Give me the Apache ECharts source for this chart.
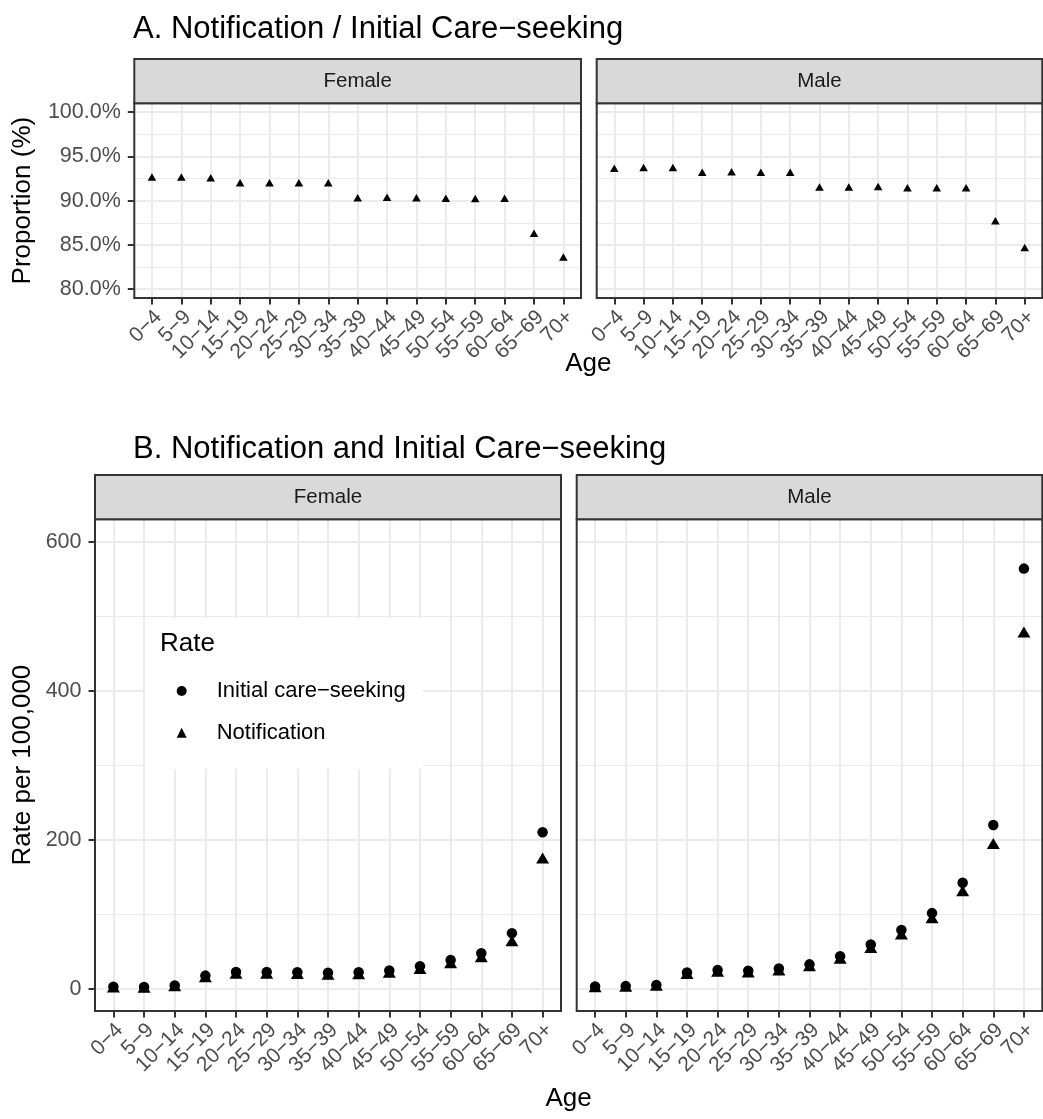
<!DOCTYPE html>
<html><head><meta charset="utf-8">
<script src="https://cdn.jsdelivr.net/npm/echarts@6/dist/echarts.min.js"></script>
<style>html,body{margin:0;padding:0;background:#fff}#c{width:1043px;height:1119px}</style>
</head><body><div id="c"></div>
<script>
// ---------- data ----------
const ageGroups = ['0−4','5−9','10−14','15−19','20−24','25−29','30−34','35−39','40−44','45−49','50−54','55−59','60−64','65−69','70+'];
const propFemale = [92.66, 92.66, 92.58, 92.01, 92.01, 92.01, 92.01, 90.32, 90.39, 90.32, 90.28, 90.24, 90.28, 86.33, 83.62];
const propMale   = [93.67, 93.75, 93.75, 93.22, 93.26, 93.22, 93.22, 91.53, 91.53, 91.60, 91.45, 91.45, 91.45, 87.72, 84.71];
const careFemale  = [2.5, 2.2, 4.3, 17.5, 22.5, 22.5, 22.0, 21.5, 22.0, 24.5, 30.0, 38.5, 47.5, 74.5, 210.0];
const notifFemale = [2.3, 2.0, 4.0, 16.1, 20.7, 20.7, 20.3, 19.4, 19.9, 22.1, 27.1, 34.8, 42.9, 64.3, 175.5];
const careMale    = [2.8, 3.4, 4.8, 21.7, 25.0, 24.0, 27.0, 32.6, 43.5, 59.3, 78.8, 101.4, 142.2, 219.6, 563.8];
const notifMale   = [2.6, 3.2, 4.5, 20.2, 23.3, 22.4, 25.2, 30.8, 40.8, 55.2, 73.4, 95.1, 131.3, 194.7, 478.6];
const propTicks = [80, 85, 90, 95, 100];
const propMinorTicks = [82.5, 87.5, 92.5, 97.5];
const rateTicks = [0, 200, 400, 600];
const rateMinorTicks = [100, 300, 500];
const panelNames = ['Female', 'Male'];

// ---------- layout / style ----------
const FONT = "'Liberation Sans', Arial, Helvetica, sans-serif";
const GRID_COL = '#EBEBEB', DARK = '#333333';
const grids = [
  {left: 134.3, top: 103.3, width: 446.7, height: 194.7},
  {left: 596.7, top: 103.3, width: 445.6, height: 194.7},
  {left: 95,    top: 519.3, width: 466,   height: 491.7},
  {left: 576.7, top: 519.3, width: 465.6, height: 491.7}
];
const STRIP_H = 44.3;
const ageIdx = ageGroups.map((_, i) => i + 1);
// label positions listed so that the first two and last two entries are not neighbours
// (prevents ECharts' min/max-label overlap check from dropping a rotated label)
const n = ageIdx.length, mid = Math.ceil(n / 2);
const labelIdx = [ageIdx[0], ageIdx[mid]].concat(ageIdx.slice(1, mid - 1), ageIdx.slice(mid + 1), [ageIdx[mid - 1]]);

const xAxes = grids.map((g, i) => ({
  type: 'value', gridIndex: i, min: 0.4, max: 15.6,
  axisLine: {show: false, onZero: false},
  axisTick: {show: true, length: 6.5, lineStyle: {color: DARK, width: 2}, customValues: ageIdx},
  axisLabel: {customValues: labelIdx, formatter: v => ageGroups[Math.round(v) - 1] || '',
    showMinLabel: true, showMaxLabel: true, hideOverlap: false,
    rotate: 45, align: 'right', verticalAlign: 'top', margin: 9.5, lineHeight: 18,
    fontSize: 21, color: '#4D4D4D', fontFamily: FONT},
  splitLine: {show: true, lineStyle: {color: GRID_COL, width: 2}}
}));

function yMain(i) {
  const isA = i < 2, left = i % 2 === 0;
  return {
    type: 'value', gridIndex: i,
    min: isA ? 79 : -30, max: isA ? 101 : 630,
    axisLine: {show: false, onZero: false},
    axisTick: {show: left, length: 6.5, lineStyle: {color: DARK, width: 2}, customValues: isA ? propTicks : rateTicks},
    axisLabel: {show: left, customValues: isA ? propTicks : rateTicks,
      showMinLabel: true, showMaxLabel: true,
      formatter: v => isA ? v.toFixed(1) + '%' : String(v),
      fontSize: 21.5, color: '#4D4D4D', fontFamily: FONT, margin: 13.5},
    splitLine: {show: true, lineStyle: {color: GRID_COL, width: 2}}
  };
}
function yMinor(i) {
  const isA = i < 2;
  return {
    type: 'value', gridIndex: i, position: 'left',
    min: isA ? 79 : -30, max: isA ? 101 : 630,
    axisLine: {show: false, onZero: false},
    axisTick: {show: false, customValues: isA ? propMinorTicks : rateMinorTicks},
    axisLabel: {show: false, customValues: isA ? propMinorTicks : rateMinorTicks},
    splitLine: {show: true, lineStyle: {color: GRID_COL, width: 1.2}}
  };
}
const yAxes = [0,1,2,3].map(yMain).concat([0,1,2,3].map(yMinor));

const pts = arr => ageIdx.map((x, i) => [x, arr[i]]);
const series = [
  {name: 'Proportion Female', type: 'scatter', xAxisIndex: 0, yAxisIndex: 0, data: pts(propFemale), symbol: 'triangle', symbolSize: [8.6, 7.5]},
  {name: 'Proportion Male', type: 'scatter', xAxisIndex: 1, yAxisIndex: 1, data: pts(propMale), symbol: 'triangle', symbolSize: [8.6, 7.5]},
  {name: 'Initial care−seeking', type: 'scatter', xAxisIndex: 2, yAxisIndex: 2, data: pts(careFemale), symbol: 'circle', symbolSize: 10.5},
  {name: 'Notification', type: 'scatter', xAxisIndex: 2, yAxisIndex: 2, data: pts(notifFemale), symbol: 'triangle', symbolSize: [13, 11]},
  {name: 'Initial care−seeking', type: 'scatter', xAxisIndex: 3, yAxisIndex: 3, data: pts(careMale), symbol: 'circle', symbolSize: 10.5},
  {name: 'Notification', type: 'scatter', xAxisIndex: 3, yAxisIndex: 3, data: pts(notifMale), symbol: 'triangle', symbolSize: [13, 11]}
].map(s => Object.assign(s, {itemStyle: {color: '#000', opacity: 1}, silent: true, z: 3}));

// ---------- decorations ----------
const graphic = [];
grids.forEach((g, i) => {
  graphic.push({type: 'rect', z: 10, shape: {x: g.left, y: g.top, width: g.width, height: g.height},
    style: {fill: 'none', stroke: DARK, lineWidth: 2}});
  graphic.push({type: 'rect', z: 10, shape: {x: g.left, y: g.top - STRIP_H, width: g.width, height: STRIP_H},
    style: {fill: '#D9D9D9', stroke: DARK, lineWidth: 2}});
  graphic.push({type: 'text', z: 11, x: g.left + g.width / 2, y: g.top - STRIP_H / 2,
    style: {text: panelNames[i % 2], fontSize: 20.5, fontFamily: FONT, fill: '#1A1A1A', align: 'center', verticalAlign: 'middle'}});
});
function txt(text, x, y, size, opts) {
  return Object.assign({type: 'text', z: 11, x: x, y: y,
    style: {text: text, fontSize: size, fontFamily: FONT, fill: '#000', align: 'left', verticalAlign: 'middle'}}, opts || {});
}
graphic.push(txt('A. Notification / Initial Care−seeking', 133, 29, 31));
graphic.push(txt('B. Notification and Initial Care−seeking', 133, 449, 31));
const ageA = txt('Age', (grids[0].left + grids[1].left + grids[1].width) / 2, 364, 26); ageA.style.align = 'center';
const ageB = txt('Age', (grids[2].left + grids[3].left + grids[3].width) / 2, 1099, 26); ageB.style.align = 'center';
graphic.push(ageA, ageB);
const yA = txt('Proportion (%)', 23, grids[0].top + grids[0].height / 2, 26, {rotation: Math.PI / 2}); yA.style.align = 'center';
const yB = txt('Rate per 100,000', 23, grids[2].top + grids[2].height / 2, 26, {rotation: Math.PI / 2}); yB.style.align = 'center';
graphic.push(yA, yB);
// legend box + title
graphic.push({type: 'rect', z: 1, shape: {x: 145, y: 618, width: 278, height: 151}, style: {fill: '#fff'}});
graphic.push(txt('Rate', 160, 643.5, 26));

const chart = echarts.init(document.getElementById('c'), null, {renderer: 'canvas'});
chart.setOption({
  animation: false,
  backgroundColor: '#fff',
  grid: grids.map(g => Object.assign({show: false}, g)),
  xAxis: xAxes,
  yAxis: yAxes,
  legend: {
    show: true, orient: 'vertical', left: 176.7, top: 680, padding: 0,
    itemWidth: 10, itemHeight: 10, itemGap: 19.7, selectedMode: false, z: 5,
    itemStyle: {opacity: 1},
    textStyle: {fontSize: 22, color: '#000', fontFamily: FONT, lineHeight: 22, padding: [0, 0, 0, 25]},
    data: [{name: 'Initial care−seeking', icon: 'circle'}, {name: 'Notification', icon: 'triangle'}]
  },
  graphic: graphic,
  series: series
});
</script></body></html>
